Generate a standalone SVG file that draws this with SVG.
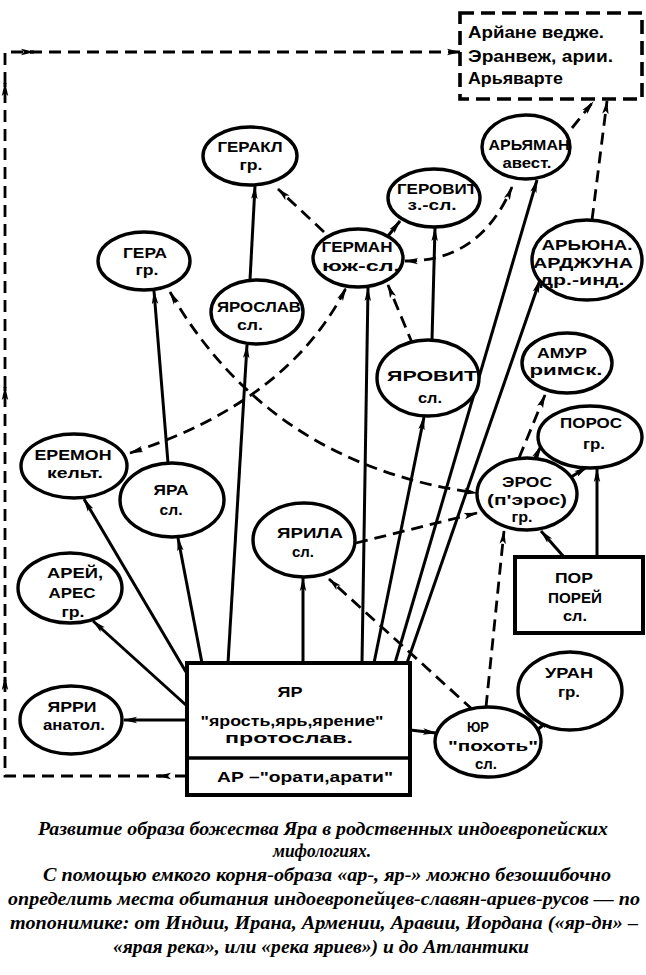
<svg xmlns="http://www.w3.org/2000/svg" width="646" height="975" viewBox="0 0 646 975">
<style>
.n{fill:#fff;stroke:#000;stroke-width:3.4}
.b{fill:#fff;stroke:#000;stroke-width:4}
.s{fill:none;stroke:#000;stroke-width:3}
.d{fill:none;stroke:#000;stroke-width:2.8;stroke-dasharray:12 7}
.t{font-family:"Liberation Sans","DejaVu Sans",sans-serif;font-weight:bold;font-size:15px;text-anchor:middle;fill:#000}
.tl{font-family:"Liberation Sans","DejaVu Sans",sans-serif;font-weight:bold;font-size:17px;fill:#000}
.c{font-family:"Liberation Serif","DejaVu Serif",serif;font-weight:bold;font-style:italic;font-size:18.5px;text-anchor:middle;fill:#000}
</style>
<defs>
<marker id="a" viewBox="0 0 14 10" refX="13" refY="5" markerWidth="14" markerHeight="10" markerUnits="userSpaceOnUse" orient="auto-start-reverse">
<path d="M0,1.8 L14,5 L0,8.2 L3,5 Z" fill="#000"/>
</marker>
</defs>

<g id="connectors">
<line class="s" x1="187" y1="720" x2="124" y2="720" stroke-width="4.5" marker-end="url(#a)"/>
<line class="s" x1="187" y1="706" x2="93" y2="621" marker-end="url(#a)"/>
<line class="s" x1="186" y1="672" x2="84" y2="499" marker-end="url(#a)"/>
<line class="s" x1="202" y1="663" x2="178" y2="538" marker-end="url(#a)"/>
<line class="s" x1="168" y1="463" x2="154" y2="291" marker-end="url(#a)"/>
<line class="s" x1="228" y1="663" x2="247" y2="345" marker-end="url(#a)"/>
<line class="s" x1="250" y1="280" x2="255" y2="186" marker-end="url(#a)"/>
<line class="s" x1="303" y1="663" x2="303" y2="578" marker-end="url(#a)"/>
<line class="s" x1="362" y1="663" x2="368" y2="288" marker-end="url(#a)"/>
<line class="s" x1="374" y1="663" x2="424" y2="417" marker-end="url(#a)"/>
<line class="s" x1="432" y1="340" x2="435" y2="228" marker-end="url(#a)"/>
<line class="s" x1="395" y1="663" x2="537" y2="180" marker-end="url(#a)"/>
<line class="s" x1="407" y1="663" x2="540" y2="280" marker-end="url(#a)"/>
<line class="s" x1="410" y1="730" x2="436" y2="733" marker-end="url(#a)"/>
<line class="s" x1="537" y1="730" x2="552" y2="718" marker-end="url(#a)"/>
<line class="s" x1="564" y1="557" x2="541" y2="531" marker-end="url(#a)"/>
<line class="s" x1="597" y1="557" x2="597" y2="469" marker-end="url(#a)"/>
<line class="s" x1="534" y1="460" x2="541" y2="446" marker-end="url(#a)"/>
<line class="s" x1="568" y1="479" x2="587" y2="467" marker-end="url(#a)"/>
<line class="s" x1="388" y1="236" x2="400" y2="221" marker-end="url(#a)"/>
<line class="d" x1="324" y1="232" x2="278" y2="189" marker-end="url(#a)"/>
<path class="d" d="M130,453 Q288,402 346,288" marker-start="url(#a)" marker-end="url(#a)"/>
<path class="d" d="M170,292 Q270,465 477,493" marker-start="url(#a)" marker-end="url(#a)"/>
<path class="d" d="M405,261 Q480,262 512,187" marker-start="url(#a)" marker-end="url(#a)"/>
<line class="d" x1="356" y1="543" x2="477" y2="513" marker-end="url(#a)"/>
<line class="d" x1="473" y1="710" x2="329" y2="579" marker-end="url(#a)"/>
<line class="d" x1="486" y1="707" x2="504" y2="531" marker-end="url(#a)"/>
<line class="d" x1="519" y1="458" x2="545" y2="395" marker-end="url(#a)"/>
<line class="d" x1="413" y1="345" x2="388" y2="285" marker-end="url(#a)"/>
<line class="d" x1="572" y1="128" x2="593" y2="102" marker-end="url(#a)"/>
<line class="d" x1="592" y1="220" x2="607" y2="101" marker-end="url(#a)"/>
<path class="d" d="M187,776 L5,776 L5,52 L460,52" marker-end="url(#a)"/>
<line class="s" x1="162" y1="776" x2="158" y2="776" marker-end="url(#a)"/>
<line class="s" x1="5" y1="681" x2="5" y2="677" marker-end="url(#a)"/>
<line class="s" x1="5" y1="391" x2="5" y2="387" marker-end="url(#a)"/>
<line class="s" x1="5" y1="87" x2="5" y2="83" marker-end="url(#a)"/>
<line class="s" x1="30" y1="52" x2="34" y2="52" marker-end="url(#a)"/>
</g>

<g id="top-box">
<rect x="460" y="13" width="182" height="86" fill="#fff" stroke="#000" stroke-width="3.6" stroke-dasharray="14 7"/>
<text class="tl" x="468" y="38" textLength="136" lengthAdjust="spacingAndGlyphs">Арйане ведже.</text>
<text class="tl" x="468" y="62" textLength="145" lengthAdjust="spacingAndGlyphs">Эранвеж, арии.</text>
<text class="tl" x="468" y="84" textLength="95" lengthAdjust="spacingAndGlyphs">Арьяварте</text>
</g>

<g id="gerakl"><ellipse class="n" cx="250" cy="156" rx="47" ry="29"/>
<text class="t" x="250" y="152" textLength="65" lengthAdjust="spacingAndGlyphs">ГЕРАКЛ</text>
<text class="t" x="251" y="170" textLength="23" lengthAdjust="spacingAndGlyphs">гр.</text></g>

<g id="gera"><ellipse class="n" cx="144" cy="261" rx="46" ry="29"/>
<text class="t" x="145" y="258" textLength="44" lengthAdjust="spacingAndGlyphs">ГЕРА</text>
<text class="t" x="147" y="275" textLength="23" lengthAdjust="spacingAndGlyphs">гр.</text></g>

<g id="yaroslav"><ellipse class="n" cx="257" cy="312" rx="46" ry="32"/>
<text class="t" x="259" y="312" textLength="84" lengthAdjust="spacingAndGlyphs">ЯРОСЛАВ</text>
<text class="t" x="250" y="330" textLength="26" lengthAdjust="spacingAndGlyphs">сл.</text></g>

<g id="german"><ellipse class="n" cx="358" cy="258" rx="45" ry="29"/>
<text class="t" x="357" y="252" textLength="71" lengthAdjust="spacingAndGlyphs">ГЕРМАН</text>
<text class="t" x="361" y="271" textLength="78" lengthAdjust="spacingAndGlyphs">юж-сл.</text></g>

<g id="gerovit"><ellipse class="n" cx="434" cy="198" rx="46" ry="29"/>
<text class="t" x="437" y="194" textLength="80" lengthAdjust="spacingAndGlyphs">ГЕРОВИТ</text>
<text class="t" x="432" y="210" textLength="49" lengthAdjust="spacingAndGlyphs">з.-сл.</text></g>

<g id="aryaman"><ellipse class="n" cx="526" cy="147" rx="44" ry="32"/>
<text class="t" x="529" y="150" textLength="81" lengthAdjust="spacingAndGlyphs">АРЬЯМАН</text>
<text class="t" x="527" y="168" textLength="49" lengthAdjust="spacingAndGlyphs">авест.</text></g>

<g id="aryuna"><ellipse class="n" cx="587" cy="260" rx="55" ry="40"/>
<text class="t" x="587" y="250" textLength="91" lengthAdjust="spacingAndGlyphs">АРЬЮНА.</text>
<text class="t" x="583" y="268" textLength="100" lengthAdjust="spacingAndGlyphs">АРДЖУНА</text>
<text class="t" x="582" y="285" textLength="85" lengthAdjust="spacingAndGlyphs">др.-инд.</text></g>

<g id="yarovit"><ellipse class="n" cx="428" cy="378" rx="51" ry="38"/>
<text class="t" x="432" y="381" textLength="90" lengthAdjust="spacingAndGlyphs">ЯРОВИТ</text>
<text class="t" x="430" y="403" textLength="24" lengthAdjust="spacingAndGlyphs">сл.</text></g>

<g id="amur"><ellipse class="n" cx="567" cy="363" rx="45" ry="30"/>
<text class="t" x="562" y="358" textLength="50" lengthAdjust="spacingAndGlyphs">АМУР</text>
<text class="t" x="566" y="375" textLength="73" lengthAdjust="spacingAndGlyphs">римск.</text></g>

<g id="poros"><ellipse class="n" cx="590" cy="437" rx="52" ry="31"/>
<text class="t" x="591" y="428" textLength="62" lengthAdjust="spacingAndGlyphs">ПОРОС</text>
<text class="t" x="594" y="449" textLength="22" lengthAdjust="spacingAndGlyphs">гр.</text></g>

<g id="eros"><ellipse class="n" cx="527" cy="494" rx="50" ry="36"/>
<text class="t" x="527" y="487" textLength="50" lengthAdjust="spacingAndGlyphs">ЭРОС</text>
<text class="t" x="527" y="505" textLength="80" lengthAdjust="spacingAndGlyphs">(п'эрос)</text>
<text class="t" x="522" y="522" textLength="21" lengthAdjust="spacingAndGlyphs">гр.</text></g>

<g id="eremon"><ellipse class="n" cx="74" cy="466" rx="53" ry="32"/>
<text class="t" x="73" y="460" textLength="77" lengthAdjust="spacingAndGlyphs">ЕРЕМОН</text>
<text class="t" x="75" y="478" textLength="56" lengthAdjust="spacingAndGlyphs">кельт.</text></g>

<g id="yara"><ellipse class="n" cx="172" cy="500" rx="52" ry="37"/>
<text class="t" x="171" y="495" textLength="35" lengthAdjust="spacingAndGlyphs">ЯРА</text>
<text class="t" x="171" y="515" textLength="23" lengthAdjust="spacingAndGlyphs">сл.</text></g>

<g id="yarila"><ellipse class="n" cx="304" cy="540" rx="51" ry="37"/>
<text class="t" x="310" y="538" textLength="66" lengthAdjust="spacingAndGlyphs">ЯРИЛА</text>
<text class="t" x="303" y="557" textLength="22" lengthAdjust="spacingAndGlyphs">сл.</text></g>

<g id="arei"><ellipse class="n" cx="70" cy="588" rx="52" ry="35"/>
<text class="t" x="75" y="578" textLength="56" lengthAdjust="spacingAndGlyphs">АРЕЙ,</text>
<text class="t" x="72" y="598" textLength="47" lengthAdjust="spacingAndGlyphs">АРЕС</text>
<text class="t" x="73" y="617" textLength="23" lengthAdjust="spacingAndGlyphs">гр.</text></g>

<g id="yarri"><ellipse class="n" cx="71" cy="720" rx="51" ry="34"/>
<text class="t" x="72" y="712" textLength="49" lengthAdjust="spacingAndGlyphs">ЯРРИ</text>
<text class="t" x="74" y="730" textLength="62" lengthAdjust="spacingAndGlyphs">анатол.</text></g>

<g id="por"><rect class="b" x="515" y="557" width="128" height="76"/>
<text class="t" x="574" y="583" textLength="38" lengthAdjust="spacingAndGlyphs">ПОР</text>
<text class="t" x="575" y="603" textLength="54" lengthAdjust="spacingAndGlyphs">ПОРЕЙ</text>
<text class="t" x="575" y="621" textLength="24" lengthAdjust="spacingAndGlyphs">сл.</text></g>

<g id="uran"><ellipse class="n" cx="570" cy="691" rx="52" ry="39"/>
<text class="t" x="569" y="678" textLength="48" lengthAdjust="spacingAndGlyphs">УРАН</text>
<text class="t" x="569" y="697" textLength="22" lengthAdjust="spacingAndGlyphs">гр.</text></g>

<g id="yur"><ellipse class="n" cx="488" cy="742" rx="53" ry="35"/>
<text class="t" x="478" y="732" textLength="22" lengthAdjust="spacingAndGlyphs">ЮР</text>
<text class="t" x="493" y="751" textLength="90" lengthAdjust="spacingAndGlyphs">"похоть"</text>
<text class="t" x="486" y="769" textLength="22" lengthAdjust="spacingAndGlyphs">сл.</text></g>

<g id="yar"><rect class="b" x="187" y="663" width="223" height="132"/>
<line x1="187" y1="758" x2="410" y2="758" stroke="#000" stroke-width="3.5"/>
<text class="t" x="290" y="697" textLength="25" lengthAdjust="spacingAndGlyphs">ЯР</text>
<text class="t" x="292" y="726" textLength="183" lengthAdjust="spacingAndGlyphs">"ярость,ярь,ярение"</text>
<text class="t" x="289" y="743" font-size="14" textLength="128" lengthAdjust="spacingAndGlyphs">протослав.</text>
<text class="t" x="305" y="782" textLength="176" lengthAdjust="spacingAndGlyphs">АР –"орати,арати"</text></g>

<g id="caption">
<text class="c" x="323" y="835" textLength="570" lengthAdjust="spacingAndGlyphs">Развитие образа божества Яра в родственных индоевропейских</text>
<text class="c" x="322" y="857" textLength="98" lengthAdjust="spacingAndGlyphs">мифологиях.</text>
<text class="c" x="327" y="881" textLength="568" lengthAdjust="spacingAndGlyphs">С помощью емкого корня-образа «ар-, яр-» можно безошибочно</text>
<text class="c" x="324" y="905" textLength="632" lengthAdjust="spacingAndGlyphs">определить места обитания индоевропейцев-славян-ариев-русов — по</text>
<text class="c" x="324" y="929" textLength="628" lengthAdjust="spacingAndGlyphs">топонимике: от Индии, Ирана, Армении, Аравии, Иордана («яр-дн» –</text>
<text class="c" x="321" y="953" textLength="416" lengthAdjust="spacingAndGlyphs">«ярая река», или «река яриев») и до Атлантики</text>
</g>
</svg>
